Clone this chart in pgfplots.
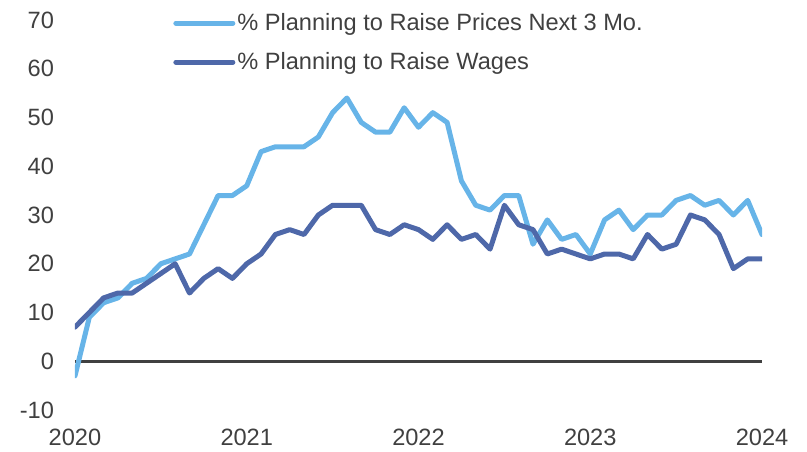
\documentclass[border=0pt]{standalone}
\usepackage{fontspec}
\setmainfont{Liberation Sans}
\usepackage{pgfplots}
\pgfplotsset{compat=1.18}
\definecolor{lightb}{HTML}{67B4E8}
\definecolor{darkb}{HTML}{4E68A9}
\definecolor{txt}{HTML}{404040}
\begin{document}
\begin{tikzpicture}[x=1pt,y=1pt]
\path[use as bounding box] (-37.5,-20.5) rectangle (366,205);
\begin{axis}[
  at={(0,0)}, anchor=south west,
  scale only axis, width=343.5pt, height=195pt,
  xmin=0, xmax=48, ymin=-10, ymax=70,
  axis line style={draw=none}, tick style={draw=none},
  xtick={0,12,24,36,48}, xticklabels={2020,2021,2022,2023,2024},
  ytick={-10,0,10,20,30,40,50,60,70},
  /pgf/number format/assume math mode=true,
  ticklabel style={font=\fontsize{11.8}{14}\selectfont, text=txt},
  yticklabel style={xshift=-7pt},
  xticklabel style={yshift=-6pt},
  legend style={at={(rel axis cs:0.1426,1.024)}, anchor=north west, draw=none, fill=none,
    inner sep=0pt, row sep=7.5pt, column sep=0pt,
    nodes={inner sep=1pt, text=txt, font=\fontsize{11.8}{14}\selectfont}},
  legend cell align=left,
  legend image code/.code={\draw[#1, line cap=round] (0pt,0pt) -- (28.5pt,0pt);},
  line join=round, line cap=round,
]
\addplot[forget plot, color=txt, line width=1.5pt, line cap=butt] coordinates {(0,0) (48,0)};
\addplot[color=lightb, line width=2.5pt, mark=none] coordinates {
(0,-3)(1,9)(2,12)(3,13)(4,16)(5,17)(6,20)(7,21)(8,22)(9,28)(10,34)(11,34)(12,36)
(13,43)(14,44)(15,44)(16,44)(17,46)(18,51)(19,54)(20,49)(21,47)(22,47)(23,52)(24,48)
(25,51)(26,49)(27,37)(28,32)(29,31)(30,34)(31,34)(32,24)(33,29)(34,25)(35,26)(36,22)
(37,29)(38,31)(39,27)(40,30)(41,30)(42,33)(43,34)(44,32)(45,33)(46,30)(47,33)(48,26)};
\addlegendentry{\% Planning to Raise Prices Next 3 Mo.}
\addplot[color=darkb, line width=2.5pt, mark=none] coordinates {
(0,7)(1,10)(2,13)(3,14)(4,14)(5,16)(6,18)(7,20)(8,14)(9,17)(10,19)(11,17)(12,20)
(13,22)(14,26)(15,27)(16,26)(17,30)(18,32)(19,32)(20,32)(21,27)(22,26)(23,28)(24,27)
(25,25)(26,28)(27,25)(28,26)(29,23)(30,32)(31,28)(32,27)(33,22)(34,23)(35,22)(36,21)
(37,22)(38,22)(39,21)(40,26)(41,23)(42,24)(43,30)(44,29)(45,26)(46,19)(47,21)(48,21)};
\addlegendentry{\% Planning to Raise Wages}
\end{axis}
\end{tikzpicture}
\end{document}
